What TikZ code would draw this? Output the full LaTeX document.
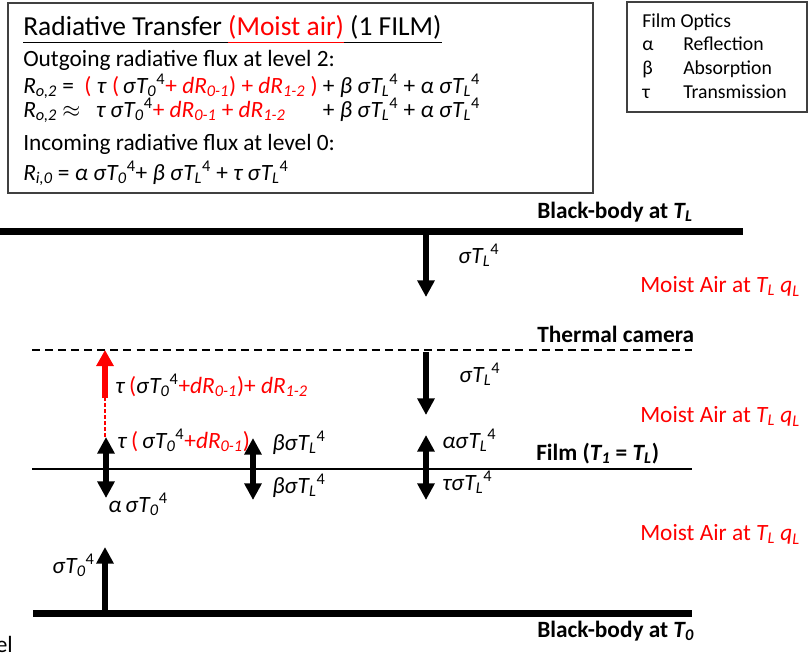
\documentclass[tikz,border=0pt]{standalone}
\usepackage{fontspec}
\setmainfont{Carlito}
\usepackage{amsmath}
\usetikzlibrary{arrows.meta}

\newcommand\rd[1]{\textcolor{red}{#1}}
\newcommand\Ts[1]{$\text{\itshape T}_{\text{\itshape #1}}$}
\newcommand\Tq[2]{$\text{\itshape T}_{\text{\itshape #1}}{}^{\text{\upshape #2}}$}
\newcommand\Rq[1]{$\text{\itshape R}_{\text{\itshape #1}}$}
\newcommand\qL{$\text{\itshape q}_{\text{\itshape L}}$}
\newcommand\eqAleft{\Rq{o,2} =\ \ \rd{(} \textit{τ} \rd{(}\,\textit{σ}\Tq{0}{4}\rd{ + \textit{d}\Rq{0-1}) + \textit{d}\Rq{1-2} )}}
\newcommand\eqBleft{\Rq{o,2} $\approx$\ \ \ \textit{τ σ}\Tq{0}{4}\rd{ + \textit{d}\Rq{0-1} + \textit{d}\Rq{1-2}}}
\newcommand\eqright{ + \textit{β σ}\Tq{L}{4} + \textit{α σ}\Tq{L}{4}}
\newlength\eqw

\begin{document}
\begin{tikzpicture}[x=0.75pt,y=-0.75pt,
    every node/.style={font=\fontsize{17.5}{21}\selectfont,inner sep=0pt,anchor=base west},
    body/.style={line width=5.25pt},
    level/.style={line width=1.9pt},
    flux/.style={line width=4.2pt,-{Triangle[width=12.5pt,length=12.5pt]}},
    fluxx/.style={line width=4.2pt,{Triangle[width=12.5pt,length=12.5pt]}-{Triangle[width=12.5pt,length=12.5pt]}},
    infobox/.style={draw=black!75,line width=1.1pt}]
\useasboundingbox (0,0) rectangle (811,658);

% equations box
\draw[infobox] (8,3) rectangle (593,193);
\node (title) at (23,35) {\fontsize{20.6}{24}\selectfont\underline{Radiative Transfer \vphantom{(}}\rd{\underline{(Moist air)}}\underline{ (1 FILM)}};
\node (out) at (23,66) {Outgoing radiative flux at level 2:};
\node (eqa) at (23,93) {\eqAleft\eqright};
\node (eqb) at (23,117) {\settowidth{\eqw}{\eqAleft}\makebox[\eqw][l]{\eqBleft}\eqright};
\node (inc) at (23,150) {Incoming radiative flux at level 0:};
\node (eqi) at (23,180) {\Rq{i,0} = \textit{α σ}\Tq{0}{4}+ \textit{β σ}\Tq{L}{4} + \textit{τ σ}\Tq{L}{4}};

% film optics
\draw[infobox] (627,2) rectangle (807,112);
\node[font=\fontsize{14.8}{18}\selectfont] (fo) at (642,27) {Film Optics};
\node[font=\fontsize{14.8}{18}\selectfont] (al) at (642,50) {α};
\node[font=\fontsize{14.8}{18}\selectfont] (ref) at (683,50) {Reflection};
\node[font=\fontsize{14.8}{18}\selectfont] (be) at (642,74) {β};
\node[font=\fontsize{14.8}{18}\selectfont] (abs) at (683,74) {Absorption};
\node[font=\fontsize{14.8}{18}\selectfont] (ta) at (642,98) {τ};
\node[font=\fontsize{14.8}{18}\selectfont] (tra) at (683,98) {Transmission};

% levels
\coordinate (bbL1) at (0,231);
\coordinate (bbL2) at (743,231);
\coordinate (cam1) at (32,350);
\coordinate (cam2) at (692,350);
\coordinate (film1) at (32,469);
\coordinate (film2) at (692,469);
\coordinate (bb01) at (33,613);
\coordinate (bb02) at (692,613);
\draw[body] (bbL1) -- (bbL2);
\draw[level,dash pattern=on 6pt off 3.8pt] (cam1) -- (cam2);
\draw[level] (film1) -- (film2);
\draw[body] (bb01) -- (bb02);

\node (bbL) at (537,218) {\textbf{Black-body at \Ts{L}}};
\node (cam) at (537,342) {\textbf{Thermal camera}};
\node (film) at (536,460) {\textbf{Film (\Ts{1} = \Ts{L})}};
\node (bb0) at (537,637) {\textbf{Black-body at \Ts{0}}};
\node[text=red] (air1) at (640,292) {Moist Air at \Ts{L} \qL};
\node[text=red] (air2) at (640,422) {Moist Air at \Ts{L} \qL};
\node[text=red] (air3) at (640,540) {Moist Air at \Ts{L} \qL};
\node[anchor=base east] (el) at (13,652) {el};

% fluxes
\coordinate (d1s) at (426,234);
\coordinate (d1e) at (426,297);
\coordinate (d2s) at (426,352);
\coordinate (d2e) at (426,415);
\coordinate (u0s) at (105,610);
\coordinate (u0e) at (105,547);
\coordinate (ra) at (105,437);
\coordinate (rb) at (105,398);
\coordinate (rc) at (105,350);
\draw[flux] (d1s) -- (d1e);
\draw[flux] (d2s) -- (d2e);
\draw[flux] (u0s) -- (u0e);
\draw[red,line width=1pt,dash pattern=on 3pt off 1.5pt] (ra) -- (rb);
\draw[red,line width=5pt,-{Triangle[width=12.5pt,length=12pt]}] (rb) -- (rc);
\coordinate (f1a) at (106,437);
\coordinate (f1b) at (106,498);
\coordinate (f2a) at (253,438);
\coordinate (f2b) at (253,500);
\coordinate (f3a) at (426,435);
\coordinate (f3b) at (426,500);
\draw[fluxx] (f1a) -- (f1b);
\draw[fluxx] (f2a) -- (f2b);
\draw[fluxx] (f3a) -- (f3b);

\node (sL1) at (458,263) {\textit{σ}\Tq{L}{4}};
\node (sL2) at (459,382) {\textit{σ}\Tq{L}{4}};
\node (tr2) at (115,393) {\textit{τ}\,\rd{(}\textit{σ}\Tq{0}{4}\rd{+\textit{d}\Rq{0-1})+ \textit{d}\Rq{1-2}}};
\node (tr1) at (117,448) {\textit{τ}\,\rd{(}\,\textit{σ}\Tq{0}{4}\rd{+\textit{d}\Rq{0-1})}};
\node (bu) at (272,450) {\textit{βσ}\Tq{L}{4}};
\node (bd) at (272,493) {\textit{βσ}\Tq{L}{4}};
\node (au) at (442,448) {\textit{ασ}\Tq{L}{4}};
\node (td) at (442,490) {\textit{τσ}\Tq{L}{4}};
\node (a0) at (108,512) {\textit{α}\,\textit{σ}\Tq{0}{4}};
\node (s0) at (52,573) {\textit{σ}\Tq{0}{4}};
\end{tikzpicture}
\end{document}
